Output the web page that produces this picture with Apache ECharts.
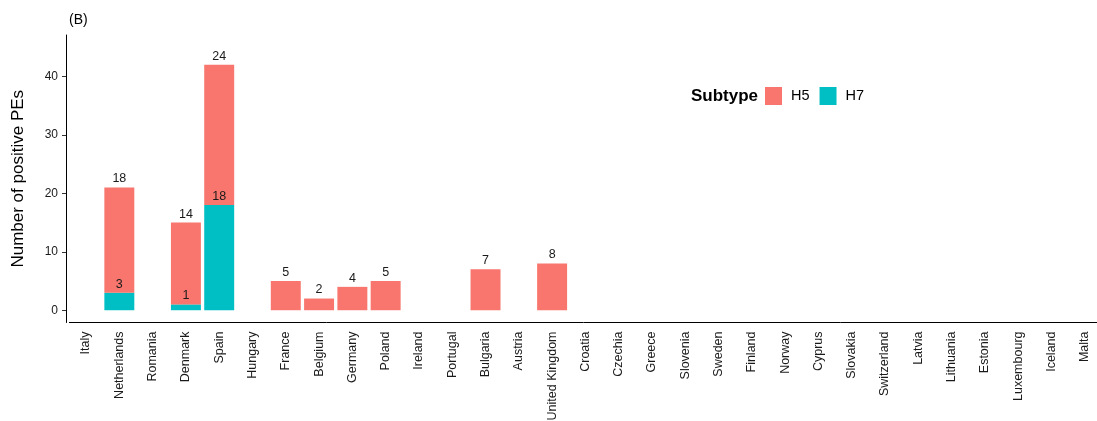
<!DOCTYPE html>
<html>
<head>
<meta charset="utf-8">
<script src="https://cdn.jsdelivr.net/npm/echarts@6/dist/echarts.min.js"></script>
<style>
  html, body { margin: 0; padding: 0; background: #fff; }
  #chart { width: 1097px; height: 421px; }
</style>
</head>
<body>
<div id="chart"></div>
<script>
const countries = ['Italy', 'Netherlands', 'Romania', 'Denmark', 'Spain', 'Hungary', 'France', 'Belgium',
  'Germany', 'Poland', 'Ireland', 'Portugal', 'Bulgaria', 'Austria', 'United Kingdom', 'Croatia',
  'Czechia', 'Greece', 'Slovenia', 'Sweden', 'Finland', 'Norway', 'Cyprus', 'Slovakia', 'Switzerland',
  'Latvia', 'Lithuania', 'Estonia', 'Luxembourg', 'Iceland', 'Malta']
const h5 = [0, 18, 0, 14, 24, 0, 5, 2, 4, 5, 0, 0, 7, 0, 8, 0, 0, 0, 0, 0, 0, 0, 0, 0, 0, 0, 0, 0, 0, 0, 0]
const h7 = [0, 3, 0, 1, 18, 0, 0, 0, 0, 0, 0, 0, 0, 0, 0, 0, 0, 0, 0, 0, 0, 0, 0, 0, 0, 0, 0, 0, 0, 0, 0]
const yTicks = [0, 10, 20, 30, 40]

const font = 'Liberation Sans, Arial, sans-serif'
const chart = echarts.init(document.getElementById('chart'))

const barLabel = {
  show: true,
  position: 'top',
  distance: 2,
  color: '#1a1a1a',
  fontSize: 12.5,
  fontFamily: font,
  formatter: (p) => (p.value ? p.value : '')
}

chart.setOption({
  animation: false,
  backgroundColor: '#fff',
  title: [
    { text: '(B)', left: 64, top: 8, textStyle: { fontSize: 14, fontWeight: 'normal', color: '#000', fontFamily: font } },
    { text: 'Subtype', left: 686, top: 83, textStyle: { fontSize: 17, fontWeight: 'bold', color: '#000', fontFamily: font } }
  ],
  legend: {
    data: ['H5', 'H7'],
    left: 760,
    top: 82,
    itemWidth: 17,
    itemHeight: 18,
    itemGap: 10,
    icon: 'rect',
    textStyle: { fontSize: 14.5, color: '#000', fontFamily: font, padding: [0, 0, 0, 4] }
  },
  grid: { left: 69.4, top: 35, width: 1032, bottom: 98.5, outerBoundsMode: 'none' },
  xAxis: {
    type: 'category',
    data: countries,
    axisLine: { onZero: false, lineStyle: { color: '#000', width: 1 } },
    axisTick: { show: false },
    axisLabel: { rotate: 90, interval: 0, margin: 9, color: '#1a1a1a', fontSize: 12.5, fontFamily: font }
  },
  yAxis: {
    type: 'value',
    min: -2.1,
    max: 47.1,
    offset: 3.4,
    name: 'Number of positive PEs',
    nameLocation: 'middle',
    nameGap: 39,
    nameTextStyle: { fontSize: 17, color: '#000', fontFamily: font },
    splitLine: { show: false },
    axisLine: { show: true, lineStyle: { color: '#000', width: 1 } },
    axisTick: { show: true, length: 4, customValues: yTicks, lineStyle: { color: '#333' } },
    axisLabel: { customValues: yTicks, margin: 8, color: '#1a1a1a', fontSize: 12, fontFamily: font }
  },
  series: [
    {
      name: 'H7',
      type: 'bar',
      stack: 'total',
      barWidth: '90%',
      itemStyle: { color: '#00BFC4' },
      label: barLabel,
      data: h7
    },
    {
      name: 'H5',
      type: 'bar',
      stack: 'total',
      barWidth: '90%',
      itemStyle: { color: '#F8766D' },
      label: barLabel,
      data: h5
    }
  ]
})
</script>
</body>
</html>
